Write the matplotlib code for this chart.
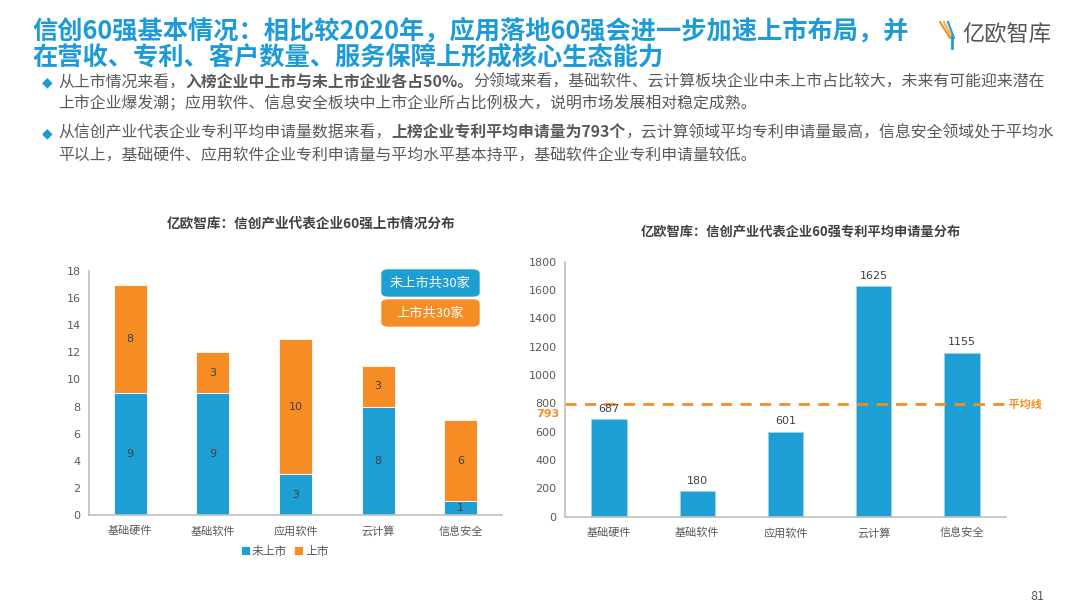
import matplotlib
matplotlib.use("Agg")
import matplotlib.pyplot as plt
from matplotlib.lines import Line2D
from matplotlib.patches import FancyBboxPatch

plt.rcParams["font.family"] = ["Noto Sans CJK SC", "DejaVu Sans"]

# data
categories = ["基础硬件", "基础软件", "应用软件", "云计算", "信息安全"]
unlisted = [9, 9, 3, 8, 1]
listed = [8, 3, 10, 3, 6]
patents = [687, 180, 601, 1625, 1155]
patent_avg = 793

BLUE = "#1E9FD3"
ORANGE = "#F68D24"
TITLE_BLUE = "#1C9BD8"
GRAY = "#595959"
AXIS_GRAY = "#BFBFBF"
NUM_FONT = ["DejaVu Sans"]

W, H = 1080, 608
fig = plt.figure(figsize=(W / 100, H / 100), dpi=100)
renderer = fig.canvas.get_renderer()


def px(x, y):
    return x / W, 1 - y / H


def box(l, t, r, b):
    return [l / W, 1 - b / H, (r - l) / W, (b - t) / H]


# header
fig.text(*px(32, 31), "信创60强基本情况：相比较2020年，应用落地60强会进一步加速上市布局，并",
         fontsize=18.2, fontweight="bold", color=TITLE_BLUE, va="center")
fig.text(*px(32, 57), "在营收、专利、客户数量、服务保障上形成核心生态能力",
         fontsize=18.2, fontweight="bold", color=TITLE_BLUE, va="center")

# logo
for dx, c in [(0, "#F68D24"), (4, "#F9B233"), (8, "#1E9FD3")]:
    fig.add_artist(Line2D([(940 + dx) / W, (950 + dx / 2) / W], [1 - 22 / H, 1 - 38 / H],
                          color=c, lw=1.5))
fig.add_artist(Line2D([952 / W, 952 / W], [1 - 36 / H, 1 - 48 / H], color="#1E9FD3", lw=2))
fig.text(*px(962, 35), "亿欧智库", fontsize=16, color="#555555", va="center")


def rich_line(x, y, parts, size=11.4):
    fx, fy = px(x, y)
    for text, bold in parts:
        t = fig.text(fx, fy, text, fontsize=size, color=GRAY, va="center",
                     fontweight="bold" if bold else "normal")
        fx += t.get_window_extent(renderer).width / W


bullets = [
    (82, [[("从上市情况来看，", False), ("入榜企业中上市与未上市企业各占50%。", True),
           ("分领域来看，基础软件、云计算板块企业中未上市占比较大，未来有可能迎来潜在", False)],
          [("上市企业爆发潮；应用软件、信息安全板块中上市企业所占比例极大，说明市场发展相对稳定成熟。", False)]]),
    (133, [[("从信创产业代表企业专利平均申请量数据来看，", False), ("上榜企业专利平均申请量为793个", True),
            ("，云计算领域平均专利申请量最高，信息安全领域处于平均水", False)],
           [("平以上，基础硬件、应用软件企业专利申请量与平均水平基本持平，基础软件企业专利申请量较低。", False)]]),
]
for y0, lines in bullets:
    fig.text(*px(42, y0), "◆", fontsize=10, color=TITLE_BLUE, va="center",
             family=["DejaVu Sans"])
    for i, parts in enumerate(lines):
        rich_line(58, y0 + i * 22, parts)

# left chart: stacked bars
ax1 = fig.add_axes(box(89, 271, 502, 515))
x = range(len(categories))
ax1.bar(x, unlisted, width=0.4, color=BLUE, edgecolor="white", linewidth=0.6, label="未上市")
ax1.bar(x, listed, width=0.4, bottom=unlisted, color=ORANGE, edgecolor="white",
        linewidth=0.6, label="上市")
for i in x:
    ax1.text(i, unlisted[i] / 2, str(unlisted[i]), ha="center", va="center",
             fontsize=8, color="#404040", family=NUM_FONT)
    ax1.text(i, unlisted[i] + listed[i] / 2, str(listed[i]), ha="center", va="center",
             fontsize=8, color="#404040", family=NUM_FONT)
ax1.set_xlim(-0.5, len(categories) - 0.5)
ax1.set_ylim(0, 18)
ax1.set_yticks(range(0, 19, 2))
ax1.set_xticks(list(x))
ax1.set_xticklabels(categories)

fig.text(*px(311, 224), "亿欧智库：信创产业代表企业60强上市情况分布", fontsize=9.8,
         fontweight="bold", color="#404040", ha="center", va="center")
fig.legend(handles=ax1.patches[:1] + ax1.patches[5:6], labels=["未上市", "上市"],
           loc="center", bbox_to_anchor=px(285, 551), ncol=2, frameon=False,
           fontsize=8.5, handlelength=0.7, handleheight=0.7, handletextpad=0.2,
           columnspacing=0.6, labelcolor=GRAY)

for (t, b, c, s) in [(270, 296, BLUE, "未上市共30家"), (300, 326, ORANGE, "上市共30家")]:
    fig.add_artist(FancyBboxPatch(px(382, b), 97 / W, (b - t) / H,
                                  boxstyle="round,pad=0,rounding_size=0.006",
                                  transform=fig.transFigure, color=c))
    fig.text(*px(430, (t + b) / 2), s, fontsize=9.5, color="white", ha="center", va="center")

# right chart: patents
ax2 = fig.add_axes(box(565, 261.7, 1006, 516.7))
ax2.bar(x, patents, width=0.4, color=BLUE, edgecolor="#9ED3EC", linewidth=0.6)
for i in x:
    ax2.text(i, patents[i] + 40, str(patents[i]), ha="center", va="bottom",
             fontsize=8, color="#404040", family=NUM_FONT)
ax2.axhline(patent_avg, color=ORANGE, lw=2, ls=(0, (4, 3)), clip_on=False)
ax2.set_xlim(-0.5, len(categories) - 0.5)
ax2.set_ylim(0, 1800)
ax2.set_yticks(range(0, 1801, 200))
ax2.set_xticks(list(x))
ax2.set_xticklabels(categories)
# the reference sets "793" just under the "800" tick label
ax2.annotate(str(patent_avg), (0, patent_avg), xycoords=ax2.get_yaxis_transform(),
             xytext=(-4, -7), textcoords="offset points", ha="right", va="center",
             fontsize=8, fontweight="bold", color=ORANGE, family=NUM_FONT)
ax2.text(1.0, patent_avg, " 平均线", transform=ax2.get_yaxis_transform(),
         ha="left", va="center", fontsize=8, fontweight="bold", color=ORANGE)
fig.text(*px(801, 232), "亿欧智库：信创产业代表企业60强专利平均申请量分布", fontsize=9.5,
         fontweight="bold", color="#404040", ha="center", va="center")

for ax in (ax1, ax2):
    for side in ("top", "right"):
        ax.spines[side].set_visible(False)
    for side in ("left", "bottom"):
        ax.spines[side].set_color(AXIS_GRAY)
        ax.spines[side].set_linewidth(1.2)
    ax.tick_params(length=0, labelsize=8, colors=GRAY, pad=6)
    ax.tick_params(axis="x", pad=8)
    for lab in ax.get_yticklabels():
        lab.set_family(NUM_FONT)

fig.text(*px(1037, 596), "81", fontsize=9, color=GRAY, ha="center", va="center")

fig.savefig("out.png", dpi=100)
